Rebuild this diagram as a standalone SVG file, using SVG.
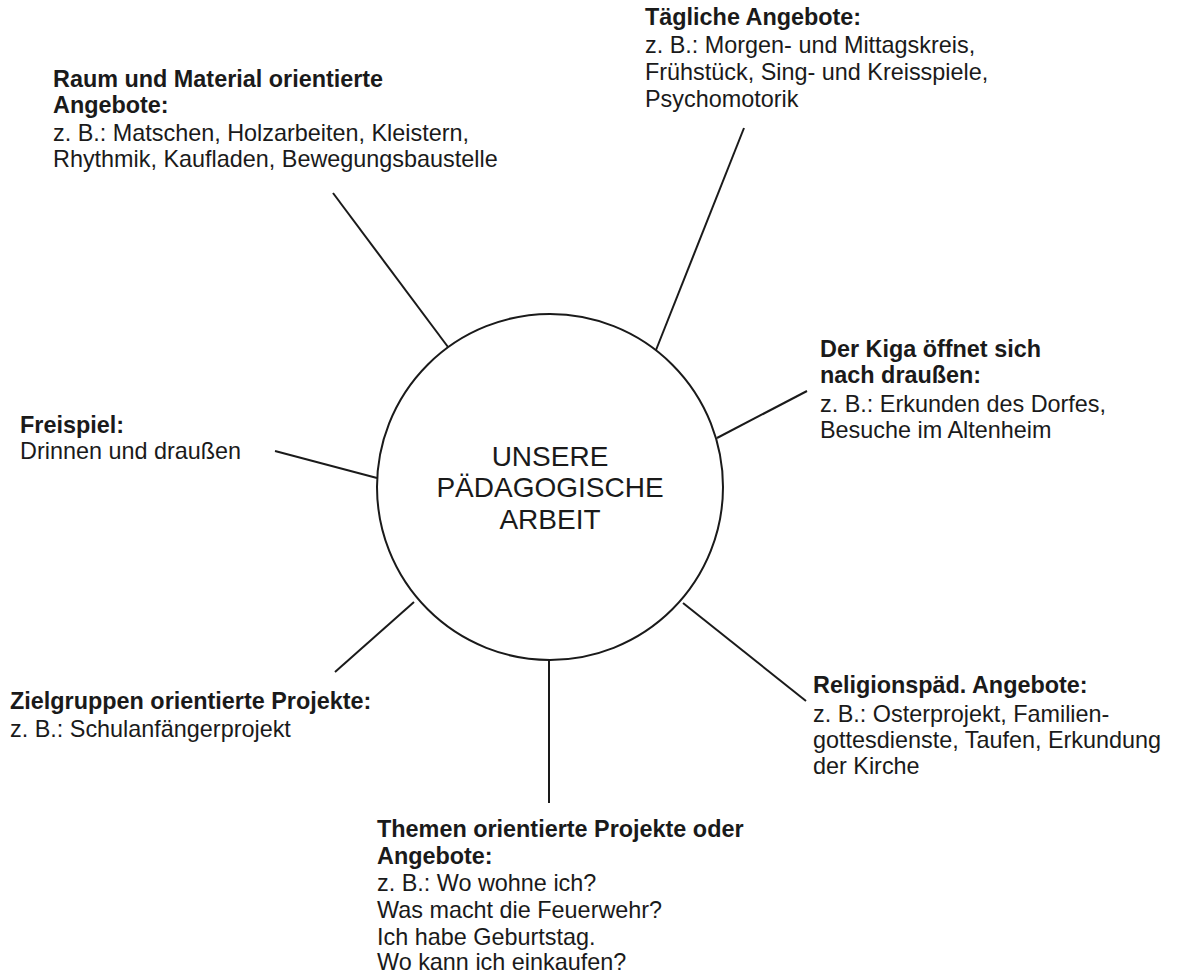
<svg xmlns="http://www.w3.org/2000/svg" width="1179" height="975" viewBox="0 0 1179 975">
<style>
text { font-family: "Liberation Sans", Arial, sans-serif; font-size: 23.4px; fill: #1a1a1a; }
.b { font-weight: bold; }
.c { font-size: 28px; text-anchor: middle; }
.ln { stroke: #1a1a1a; stroke-width: 2; fill: none; }
</style>
<rect width="1179" height="975" fill="#fff"/>
<g id="connectors">
<line class="ln" x1="333" y1="193" x2="448" y2="347"/>
<line class="ln" x1="744" y1="128" x2="656" y2="350"/>
<line class="ln" x1="807" y1="391" x2="717" y2="438"/>
<line class="ln" x1="275" y1="451" x2="377" y2="478"/>
<line class="ln" x1="335" y1="672" x2="414" y2="602"/>
<line class="ln" x1="549" y1="660" x2="549" y2="803"/>
<line class="ln" x1="683" y1="603" x2="806" y2="701"/>
</g>
<g id="center">
<circle class="ln" cx="550" cy="487" r="173"/>
<text class="c" x="550" y="466">UNSERE</text>
<text class="c" x="550" y="497">PÄDAGOGISCHE</text>
<text class="c" x="550" y="529">ARBEIT</text>
</g>
<g id="raum">
<text class="b" x="53" y="87">Raum und Material orientierte</text>
<text class="b" x="53" y="113">Angebote:</text>
<text x="53" y="141">z. B.: Matschen, Holzarbeiten, Kleistern,</text>
<text x="53" y="167">Rhythmik, Kaufladen, Bewegungsbaustelle</text>
</g>
<g id="taeglich">
<text class="b" x="645" y="25">Tägliche Angebote:</text>
<text x="645" y="53">z. B.: Morgen- und Mittagskreis,</text>
<text x="645" y="80">Frühstück, Sing- und Kreisspiele,</text>
<text x="645" y="107">Psychomotorik</text>
</g>
<g id="kiga">
<text class="b" x="820" y="357">Der Kiga öffnet sich</text>
<text class="b" x="820" y="383">nach draußen:</text>
<text x="820" y="412">z. B.: Erkunden des Dorfes,</text>
<text x="820" y="438">Besuche im Altenheim</text>
</g>
<g id="freispiel">
<text class="b" x="20" y="433">Freispiel:</text>
<text x="20" y="459">Drinnen und draußen</text>
</g>
<g id="zielgruppen">
<text class="b" x="10" y="709">Zielgruppen orientierte Projekte:</text>
<text x="10" y="737">z. B.: Schulanfängerprojekt</text>
</g>
<g id="religion">
<text class="b" x="813" y="693">Religionspäd. Angebote:</text>
<text x="813" y="722">z. B.: Osterprojekt, Familien-</text>
<text x="813" y="748">gottesdienste, Taufen, Erkundung</text>
<text x="813" y="774">der Kirche</text>
</g>
<g id="themen">
<text class="b" x="377" y="837">Themen orientierte Projekte oder</text>
<text class="b" x="377" y="864">Angebote:</text>
<text x="377" y="891">z. B.: Wo wohne ich?</text>
<text x="377" y="918">Was macht die Feuerwehr?</text>
<text x="377" y="945">Ich habe Geburtstag.</text>
<text x="377" y="970">Wo kann ich einkaufen?</text>
</g>
</svg>
